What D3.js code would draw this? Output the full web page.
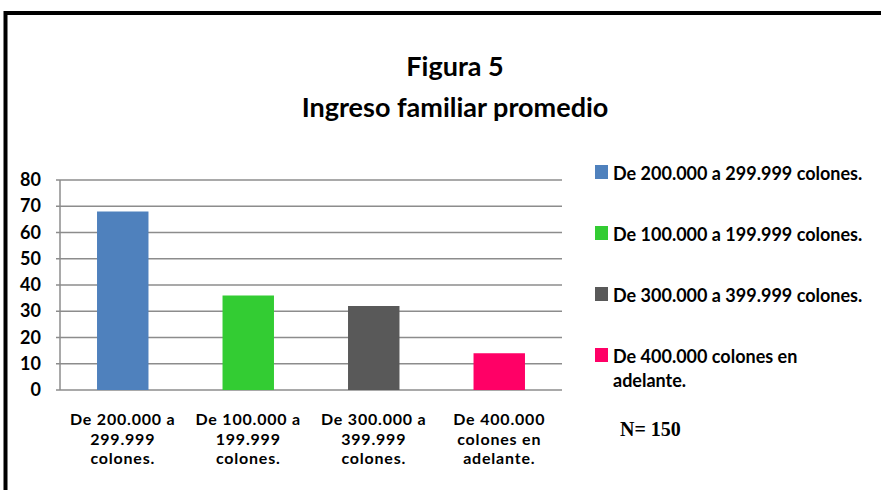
<!DOCTYPE html>
<html>
<head>
<meta charset="utf-8">
<script src="https://cdn.jsdelivr.net/npm/d3@7"></script>
<style>
  body { margin: 0; background: #fff; }
  svg text { font-family: Lato, "Open Sans", sans-serif; font-weight: bold; fill: #000; }
</style>
</head>
<body>
<svg id="chart" width="881" height="490"></svg>
<script>
// data
var categories = ['De 200.000 a 299.999 colones.', 'De 100.000 a 199.999 colones.',
                  'De 300.000 a 399.999 colones.', 'De 400.000 colones en adelante.'];
var axisLabels = [['De 200.000 a', '299.999', 'colones.'],
                  ['De 100.000 a', '199.999', 'colones.'],
                  ['De 300.000 a', '399.999', 'colones.'],
                  ['De 400.000', 'colones en', 'adelante.']];
var legendLabels = [['De 200.000 a 299.999 colones.'],
                    ['De 100.000 a 199.999 colones.'],
                    ['De 300.000 a 399.999 colones.'],
                    ['De 400.000 colones en', 'adelante.']];
var values = [68, 36, 32, 14];
var barColors = ['#4f81bd', '#33cc33', '#595959', '#ff0066'];
var yTicks = [0, 10, 20, 30, 40, 50, 60, 70, 80];

var svg = d3.select('#chart');
var plot = { left: 60, right: 562, top: 180, bottom: 390 };

// outer frame (runs off the right and bottom)
svg.append('rect')
   .attr('x', 5.5).attr('y', 13)
   .attr('width', 900).attr('height', 500)
   .attr('fill', 'none').attr('stroke', '#000').attr('stroke-width', 4);

// title
svg.append('text').attr('x', 455).attr('y', 76)
   .attr('text-anchor', 'middle').style('font-size', '27px').text('Figura 5');
svg.append('text').attr('x', 455).attr('y', 117)
   .attr('text-anchor', 'middle').style('font-size', '27px').text('Ingreso familiar  promedio');

var x = d3.scaleBand().domain(categories).range([plot.left, plot.right]).paddingInner(0.59).paddingOuter(0.295);
var y = d3.scaleLinear().domain([0, 80]).range([plot.bottom, plot.top]);

// gridlines
svg.append('g').selectAll('line').data(yTicks).enter().append('line')
   .attr('x1', plot.left - 4).attr('x2', plot.right)
   .attr('y1', function(d) { return y(d); }).attr('y2', function(d) { return y(d); })
   .attr('stroke', '#8c8c8c').attr('stroke-width', 1.5);
svg.append('line')
   .attr('x1', plot.left).attr('x2', plot.left)
   .attr('y1', plot.top).attr('y2', plot.bottom)
   .attr('stroke', '#8c8c8c').attr('stroke-width', 1.5);

// y labels
svg.append('g').selectAll('text').data(yTicks).enter().append('text')
   .attr('x', 41).attr('y', function(d) { return y(d) + 6; })
   .attr('text-anchor', 'end').style('font-size', '18px')
   .text(function(d) { return d; });

// bars
svg.append('g').selectAll('rect').data(values).enter().append('rect')
   .attr('x', function(d, i) { return x(categories[i]); })
   .attr('width', x.bandwidth())
   .attr('y', function(d) { return y(d); })
   .attr('height', function(d) { return y(0) - y(d); })
   .attr('fill', function(d, i) { return barColors[i]; });

// x labels
var xl = svg.append('g').selectAll('text').data(axisLabels).enter().append('text')
   .attr('text-anchor', 'middle').style('font-size', '16px').style('letter-spacing', '0.8px');
xl.selectAll('tspan').data(function(d, i) { return d.map(function(t) { return { t: t, i: i }; }); })
   .enter().append('tspan')
   .attr('x', function(d) { return x(categories[d.i]) + x.bandwidth() / 2; })
   .attr('y', function(d, j) { return 425 + j * 19.5; })
   .text(function(d) { return d.t; });

// legend
var lg = svg.append('g').selectAll('g').data(legendLabels).enter().append('g')
   .attr('transform', function(d, i) { return 'translate(595,' + (165 + i * 61) + ')'; });
lg.append('rect').attr('width', 13).attr('height', 14)
   .attr('fill', function(d, i) { return barColors[i]; });
lg.append('text').style('font-size', '18px')
   .selectAll('tspan').data(function(d) { return d; }).enter().append('tspan')
   .attr('x', 18).attr('y', function(d, j) { return 15 + j * 24; })
   .text(function(d) { return d; });

// sample size
svg.append('text').attr('x', 620).attr('y', 436)
   .style('font-family', '"Liberation Serif", "DejaVu Serif", serif').style('font-size', '20px')
   .text('N= 150');
</script>
</body>
</html>
